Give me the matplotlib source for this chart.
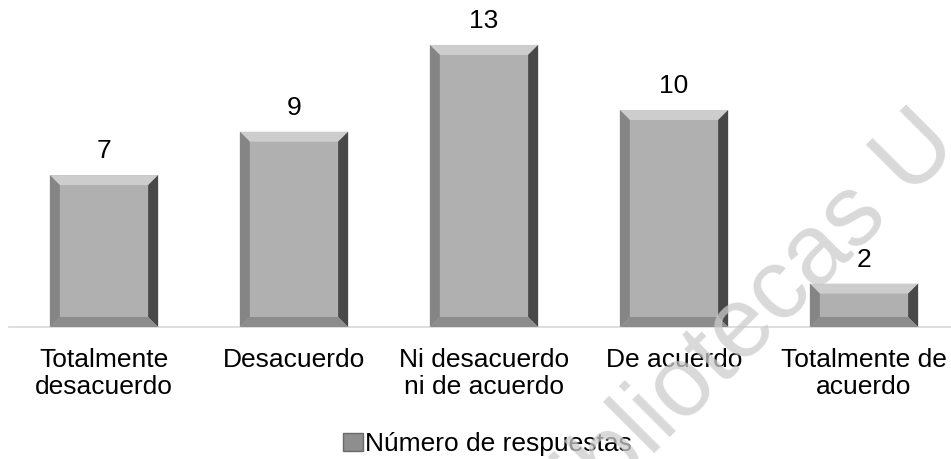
import matplotlib.pyplot as plt
from matplotlib.patches import Polygon, Patch

categories = ["Totalmente\ndesacuerdo", "Desacuerdo", "Ni desacuerdo\nni de acuerdo",
              "De acuerdo", "Totalmente de\nacuerdo"]
values = [7, 9, 13, 10, 2]
series_name = "Número de respuestas"
watermark = "Bibliotecas U"

plt.rcParams['font.family'] = ['Liberation Sans', 'DejaVu Sans']
FS = 19

fig = plt.figure(figsize=(9.51, 4.59), dpi=100)
ax = fig.add_axes([9 / 951, 132 / 459, 950 / 951, 327 / 459])

x = range(len(values))
bars = ax.bar(x, values, width=0.57, color='#b0b0b0', zorder=2)
ax.set_xlim(-0.5, len(values) - 0.5)
ax.set_ylim(0, 15.07)

# bevel edges, ~10 px wide, converted to data units
bx = 10 / 190
by = 10 / 21.7
for b in bars:
    x0, y0 = b.get_x(), b.get_y()
    x1, y1 = x0 + b.get_width(), y0 + b.get_height()
    faces = [
        ([(x0, y1), (x1, y1), (x1 - bx, y1 - by), (x0 + bx, y1 - by)], '#cdcdcd'),
        ([(x0, y0), (x0, y1), (x0 + bx, y1 - by), (x0 + bx, y0 + by)], '#858585'),
        ([(x1, y0), (x1, y1), (x1 - bx, y1 - by), (x1 - bx, y0 + by)], '#484848'),
        ([(x0, y0), (x1, y0), (x1 - bx, y0 + by), (x0 + bx, y0 + by)], '#8c8c8c'),
    ]
    for pts, c in faces:
        ax.add_patch(Polygon(pts, closed=True, facecolor=c, edgecolor='none', zorder=3))
    ax.text(b.get_x() + b.get_width() / 2, y1 + 0.55, str(int(b.get_height())),
            ha='center', va='bottom', fontsize=FS, color='#000000')

for s in ['top', 'right', 'left']:
    ax.spines[s].set_visible(False)
ax.spines['bottom'].set_color('#d9d9d9')
ax.spines['bottom'].set_linewidth(1.2)
ax.set_yticks([])
ax.set_xticks(list(x))
ax.set_xticklabels(categories, fontsize=FS, linespacing=1.18)
ax.tick_params(axis='x', length=0, pad=15)

fig.legend(handles=[Patch(facecolor='#8e8e8e', edgecolor='#6a6a6a', label=series_name)],
           loc='center left', bbox_to_anchor=(343 / 951, 1 - 444 / 459), frameon=False,
           borderpad=0, borderaxespad=0, fontsize=FS,
           handlelength=0.75, handleheight=0.65, handletextpad=0.1)

# faint diagonal watermark
fig.text(548 / 951, (459 - 560) / 459, watermark, fontsize=72, rotation=45,
         rotation_mode='anchor', ha='left', va='baseline', color='#cccccc',
         alpha=0.75, zorder=10)

fig.savefig('out.png', dpi=100)
